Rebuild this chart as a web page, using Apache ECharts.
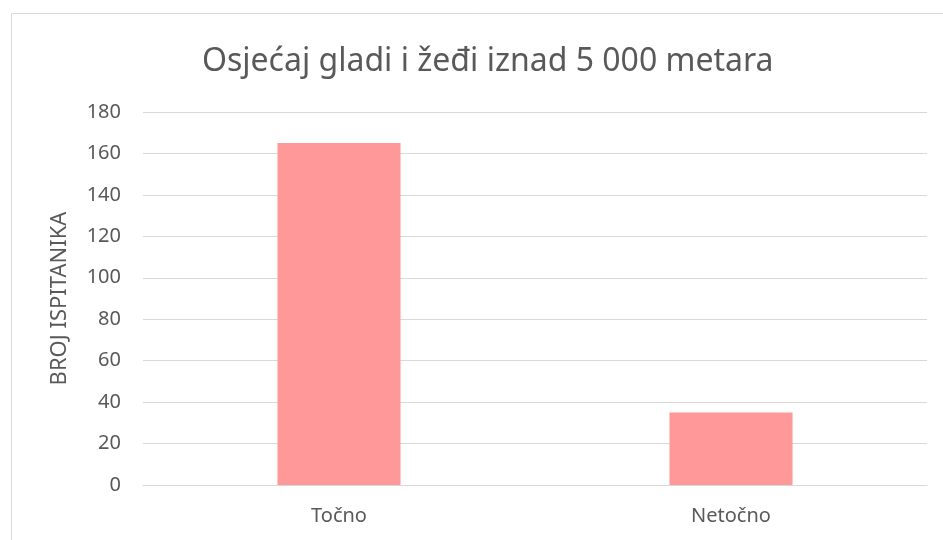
<!DOCTYPE html>
<html>
<head>
<meta charset="utf-8">
<script src="https://cdn.jsdelivr.net/npm/echarts@6/dist/echarts.min.js"></script>
<style>
  html, body { margin: 0; padding: 0; background: #fff; }
  #chart { width: 943px; height: 540px; }
</style>
</head>
<body>
<div id="chart"></div>
<script>
// data
const categories = ['Točno', 'Netočno'];
const values = [165, 35];
const yTicks = { min: 0, max: 180, interval: 20 };

const chart = echarts.init(document.getElementById('chart'));

chart.setOption({
  backgroundColor: '#fff',
  textStyle: { fontFamily: 'Noto Sans' },
  title: {
    text: 'Osjećaj gladi i žeđi iznad 5 000 metara',
    left: 197,
    top: 41,
    textStyle: { fontFamily: 'Noto Sans', fontSize: 32, fontWeight: 'normal', color: '#595959' }
  },
  graphic: [{
    type: 'rect',
    shape: { x: 11.5, y: 13.5, width: 960, height: 560 },
    style: { fill: 'none', stroke: '#d9d9d9', lineWidth: 1 },
    silent: true
  }],
  grid: { left: 143, right: 16, top: 112, bottom: 55 },
  xAxis: {
    type: 'category',
    data: categories,
    axisLine: { show: true, lineStyle: { color: '#d9d9d9', width: 1 } },
    axisTick: { show: false },
    axisLabel: { color: '#595959', fontSize: 20, margin: 21 }
  },
  yAxis: {
    type: 'value',
    min: yTicks.min,
    max: yTicks.max,
    interval: yTicks.interval,
    name: 'BROJ ISPITANIKA',
    nameLocation: 'middle',
    nameGap: 72,
    nameRotate: 90,
    nameTextStyle: { color: '#595959', fontSize: 22 },
    axisLine: { show: false },
    axisTick: { show: false },
    axisLabel: { color: '#595959', fontSize: 20, margin: 22 },
    splitLine: { lineStyle: { color: '#d9d9d9', width: 1 } }
  },
  series: [{
    type: 'bar',
    data: values,
    barWidth: '31.4%',
    itemStyle: { color: '#ff9999' }
  }]
});
</script>
</body>
</html>
